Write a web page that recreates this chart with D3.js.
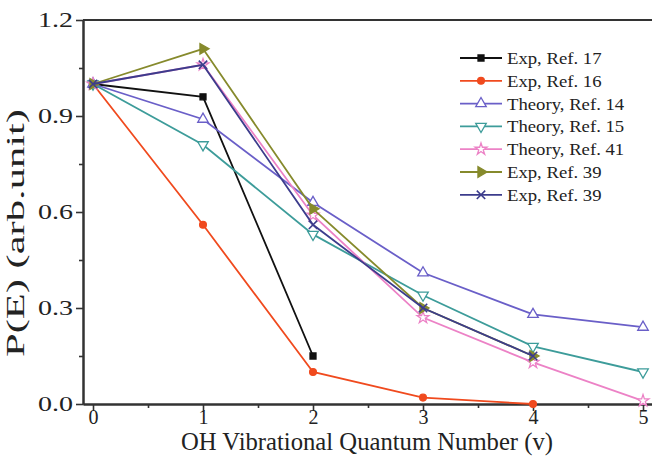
<!DOCTYPE html>
<html>
<head>
<meta charset="utf-8">
<script src="https://cdn.jsdelivr.net/npm/d3@7"></script>
<style>
  body { margin: 0; background: #fff; }
  text { font-family: "Liberation Serif", "Times New Roman", serif; fill: #222; }
</style>
</head>
<body>
<svg id="chart" width="652" height="458"></svg>
<script>
// Relative population P(E) of OH vibrational levels
const levels = [0, 1, 2, 3, 4, 5];
const labels = ["Exp, Ref. 17", "Exp, Ref. 16", "Theory, Ref. 14", "Theory, Ref. 15",
                "Theory, Ref. 41", "Exp, Ref. 39", "Exp, Ref. 39"];
const exp17    = [1.00, 0.96, 0.15];
const exp16    = [1.00, 0.56, 0.10, 0.02, 0.00];
const theory14 = [1.00, 0.89, 0.63, 0.41, 0.28, 0.24];
const theory15 = [1.00, 0.81, 0.53, 0.34, 0.18, 0.10];
const theory41 = [1.00, 1.06, 0.59, 0.27, 0.13, 0.01];
const exp39a   = [1.00, 1.11, 0.61, 0.30, 0.15];
const exp39b   = [1.00, 1.06, 0.56, 0.30, 0.15];
const xTicks = [0, 1, 2, 3, 4, 5];
const xMinor = [0.5, 1.5, 2.5, 3.5, 4.5];
const yTicks = [0.0, 0.3, 0.6, 0.9, 1.2];
const yMinor = [0.15, 0.45, 0.75, 1.05];

const series = [
  { name: labels[0], values: exp17,    color: "#111111", shape: "square" },
  { name: labels[1], values: exp16,    color: "#f04a1e", shape: "circle" },
  { name: labels[2], values: theory14, color: "#6a5fc8", shape: "triUp" },
  { name: labels[3], values: theory15, color: "#3d9c9a", shape: "triDown" },
  { name: labels[4], values: theory41, color: "#ec82c6", shape: "star" },
  { name: labels[5], values: exp39a,   color: "#868a2c", shape: "triRight" },
  { name: labels[6], values: exp39b,   color: "#3c3c8c", shape: "cross" }
];

const svg = d3.select("#chart");
const plotLeft = 83, plotRight = 652, plotTop = 20, plotBottom = 404;

const x = d3.scaleLinear().domain([-0.0909, 5.0818]).range([plotLeft, plotRight]);
const y = d3.scaleLinear().domain([0, 1.2]).range([plotBottom, plotTop]);

// Stretch a text element horizontally to a given width
function setWidth(sel, w) {
  sel.attr("textLength", w).attr("lengthAdjust", "spacingAndGlyphs");
}

// Frame: top line
svg.append("line").attr("x1", plotLeft).attr("x2", plotRight).attr("y1", plotTop).attr("y2", plotTop)
  .attr("stroke", "#333").attr("stroke-width", 2);

// Axes
const xAxis = svg.append("g").attr("transform", `translate(0,${plotBottom})`)
  .call(d3.axisBottom(x).tickValues(xTicks).tickFormat(d3.format("d")).tickSize(7).tickSizeOuter(0).tickPadding(-1));
const xMinorAxis = svg.append("g").attr("transform", `translate(0,${plotBottom})`)
  .call(d3.axisBottom(x).tickValues(xMinor).tickFormat("").tickSize(4).tickSizeOuter(0));
const yAxis = svg.append("g").attr("transform", `translate(${plotLeft},0)`)
  .call(d3.axisLeft(y).tickValues(yTicks).tickFormat(d3.format(".1f")).tickSize(7).tickSizeOuter(0).tickPadding(3));
const yMinorAxis = svg.append("g").attr("transform", `translate(${plotLeft},0)`)
  .call(d3.axisLeft(y).tickValues(yMinor).tickFormat("").tickSize(4).tickSizeOuter(0));

[xAxis, xMinorAxis, yAxis, yMinorAxis].forEach(g => {
  g.select(".domain").attr("stroke", "#333").attr("stroke-width", 2);
  g.selectAll(".tick line").attr("stroke", "#333").attr("stroke-width", 1.6);
  g.selectAll("text").attr("font-family", "Liberation Serif, serif").attr("fill", "#222");
});
xAxis.selectAll("text").attr("font-size", 20);
yAxis.selectAll("text").attr("font-size", 21).call(setWidth, 35);

// Axis titles
svg.append("text").attr("x", 367).attr("y", 450).attr("text-anchor", "middle")
  .attr("font-size", 25).text("OH Vibrational Quantum Number (v)").call(setWidth, 372);
svg.append("text").attr("transform", "translate(24,233) rotate(-90)").attr("text-anchor", "middle")
  .attr("font-size", 25).text("P(E) (arb.unit)").call(setWidth, 248);

// Marker drawing
const symGen = {
  square:   { type: d3.symbolSquare,   size: 36, fill: true,  rot: 0 },
  circle:   { type: d3.symbolCircle,   size: 36, fill: true,  rot: 0 },
  triUp:    { type: d3.symbolTriangle, size: 48, fill: false, rot: 0 },
  triDown:  { type: d3.symbolTriangle, size: 48, fill: false, rot: 180 },
  star:     { type: d3.symbolStar,     size: 44, fill: false, rot: 0 },
  triRight: { type: d3.symbolTriangle, size: 48, fill: true,  rot: 90 },
  cross:    { type: d3.symbolX,        size: 48, fill: false, rot: 0 }
};
function drawMarker(g, shape, color, cx, cy) {
  const s = symGen[shape];
  g.append("path")
    .attr("d", d3.symbol().type(s.type).size(s.size)())
    .attr("transform", `translate(${cx},${cy}) rotate(${s.rot})`)
    .attr("fill", s.fill ? color : (shape === "cross" ? "none" : "#fff"))
    .attr("stroke", color)
    .attr("stroke-width", shape === "cross" ? 1.6 : 1.3);
}

const line = d3.line().x((d, i) => x(levels[i])).y(d => y(d));
const plot = svg.append("g");
series.forEach(s => {
  plot.append("path").datum(s.values).attr("d", line)
    .attr("fill", "none").attr("stroke", s.color).attr("stroke-width", 1.8);
  s.values.forEach((v, i) => drawMarker(plot, s.shape, s.color, x(levels[i]), y(v)));
});

// Legend
const legend = svg.append("g");
series.forEach((s, i) => {
  const ly = 58 + i * 22.8;
  legend.append("line").attr("x1", 460).attr("x2", 502).attr("y1", ly).attr("y2", ly)
    .attr("stroke", s.color).attr("stroke-width", 1.8);
  drawMarker(legend, s.shape, s.color, 481, ly);
  const t = legend.append("text").attr("x", 507).attr("y", ly).attr("dy", "0.35em")
    .attr("font-size", 17).text(s.name);
  setWidth(t, t.node().getComputedTextLength() * 1.1);
});
</script>
</body>
</html>
